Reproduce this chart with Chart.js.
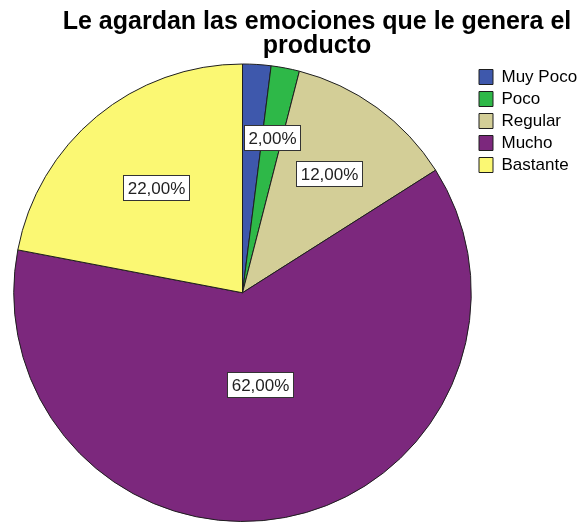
<!DOCTYPE html>
<html>
<head>
<meta charset="utf-8">
<script src="https://cdn.jsdelivr.net/npm/chart.js"></script>
<style>
  html, body { margin: 0; background: #fff; }
  #wrap { width: 579px; height: 522px; }
</style>
</head>
<body>
<div id="wrap"><canvas id="myChart"></canvas></div>
<script>
const categories = ['Muy Poco', 'Poco', 'Regular', 'Mucho', 'Bastante'];
const percents = [2, 2, 12, 62, 22];
const sliceColors = ['#3E58AC', '#2EB848', '#D3CE97', '#7C287D', '#FBF873'];
const titleLines = ['Le agardan las emociones que le genera el', 'producto'];

const FONT = 'Arial, "Liberation Sans", sans-serif';

function fmtPct(v) {
  return v.toFixed(2).replace('.', ',') + '%';
}

function overlapArea(a, b) {
  const w = Math.min(a.x + a.w, b.x + b.w) - Math.max(a.x, b.x);
  const h = Math.min(a.y + a.h, b.y + b.h) - Math.max(a.y, b.y);
  return (w > 0 && h > 0) ? w * h : 0;
}

// title sits a bit right of the page centre, over pie + legend
const titleShift = {
  id: 'titleShift',
  afterLayout(chart) {
    const t = chart.titleBlock;
    if (t) { t.left = 55; t.right = chart.width; }
  }
};

// boxed percentage labels; a label that lands on top of another one is dropped
const sliceLabels = {
  id: 'sliceLabels',
  afterDatasetsDraw(chart) {
    const ctx = chart.ctx;
    const arcs = chart.getDatasetMeta(0).data;
    const total = percents.reduce((s, v) => s + v, 0);
    ctx.save();
    ctx.font = '17px ' + FONT;
    const boxes = [];
    for (let i = arcs.length - 1; i >= 0; i--) {
      const p = arcs[i].getProps(['x', 'y', 'startAngle', 'endAngle', 'outerRadius'], true);
      const mid = (p.startAngle + p.endAngle) / 2;
      const d = p.outerRadius * (0.7 - 0.47 * percents[i] / total);
      const cx = p.x + Math.cos(mid) * d;
      const cy = p.y + Math.sin(mid) * d;
      const text = fmtPct(percents[i]);
      const w = Math.round(ctx.measureText(text).width) + 8;
      const h = 25;
      const box = { i: i, text: text, x: Math.round(cx - w / 2) + 0.5, y: Math.round(cy - h / 2) + 0.5, w: w, h: h };
      if (!boxes.some(b => overlapArea(b, box) > 0.3 * w * h)) boxes.push(box);
    }
    boxes.sort((a, b) => a.i - b.i).forEach(b => {
      ctx.fillStyle = '#fff';
      ctx.fillRect(b.x, b.y, b.w, b.h);
      ctx.strokeStyle = '#333';
      ctx.lineWidth = 1;
      ctx.strokeRect(b.x, b.y, b.w, b.h);
      ctx.fillStyle = '#222';
      ctx.textAlign = 'center';
      ctx.textBaseline = 'middle';
      ctx.fillText(b.text, b.x + b.w / 2, b.y + b.h / 2 + 1);
    });
    ctx.restore();
  }
};

const ctx = document.getElementById('myChart');
new Chart(ctx, {
  type: 'pie',
  data: {
    labels: categories,
    datasets: [{
      data: percents,
      backgroundColor: sliceColors,
      borderColor: '#1e1e1e',
      borderWidth: 1
    }]
  },
  options: {
    responsive: true,
    maintainAspectRatio: false,
    animation: false,
    layout: { padding: { left: 11, right: 1, bottom: 0 } },
    plugins: {
      title: {
        display: true,
        text: titleLines,
        color: '#000',
        font: { family: FONT, size: 25, weight: 'bold', lineHeight: 0.96 },
        padding: { top: 10.5, bottom: 5 }
      },
      legend: {
        position: 'right',
        align: 'start',
        fullSize: false,
        maxWidth: 104,
        labels: {
          color: '#000',
          font: { family: FONT, size: 17 },
          boxWidth: 14,
          boxHeight: 15,
          padding: 5
        }
      },
      tooltip: { enabled: false }
    }
  },
  plugins: [titleShift, sliceLabels]
});
</script>
</body>
</html>
